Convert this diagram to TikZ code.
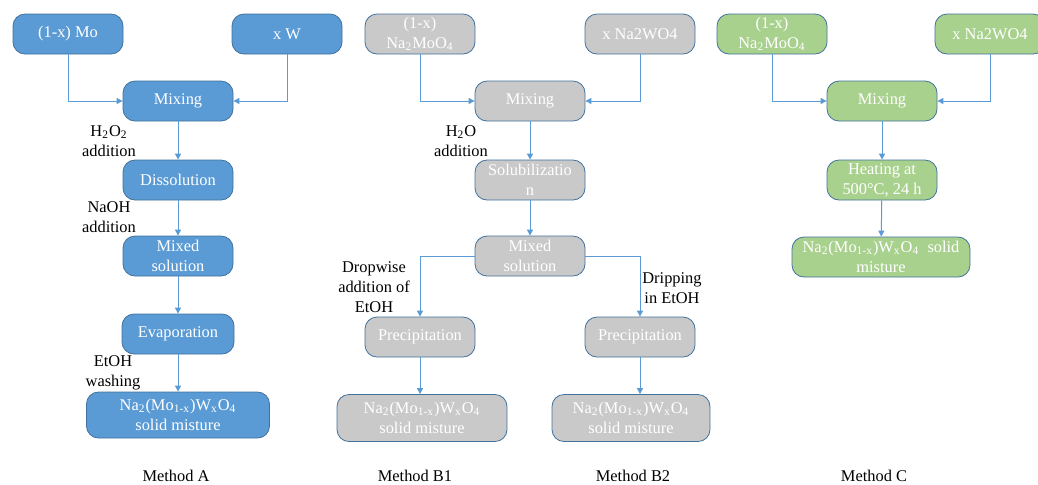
\documentclass[tikz,border=0pt]{standalone}
\usepackage{fontspec}
\setmainfont{Liberation Serif}
\usepackage{tikz}
\usetikzlibrary{arrows.meta,positioning}

\definecolor{fillA}{HTML}{5B9BD5}
\definecolor{fillB}{HTML}{C9C9C9}
\definecolor{fillC}{HTML}{A9D18E}
\definecolor{edge}{HTML}{41719C}
\definecolor{arr}{HTML}{5B9BD5}

\begin{document}
\begin{tikzpicture}[
  x=0.5pt, y=-0.5pt,
  font=\fontsize{8.2}{10}\selectfont,
  box/.style={draw=edge, line width=0.4pt, rounded corners=6pt, text=white,
    minimum width=55pt, minimum height=20pt, inner sep=1pt, align=center},
  boxA/.style={box, fill=fillA},
  boxB/.style={box, fill=fillB},
  boxC/.style={box, fill=fillC},
  flow/.style={draw=arr, line width=0.5pt, -{Triangle[length=3pt,width=3pt]}},
  note/.style={align=center, inner sep=0pt},
]
\useasboundingbox (0,0) rectangle (1038,484);
\def\Prod{Na\textsubscript{2}(Mo\textsubscript{1-x})W\textsubscript{x}O\textsubscript{4}}
% Method A
\node[boxA] (moA) at (68,34) {(1-x) Mo};
\node[boxA] (wA) at (287,34) {x W};
\node[boxA] (mixA) at (178,101) {Mixing};
\node[boxA] (disA) at (178,180) {Dissolution};
\node[boxA] (solA) at (178,256) {Mixed\\solution};
\node[boxA, minimum width=56pt] (evaA) at (178,334) {Evaporation};
\node[boxA, minimum width=91.5pt, minimum height=23pt] (prodA) at (178,415) {\Prod\\solid misture};
\draw[flow] (moA.south) |- (mixA.west);
\draw[flow] (wA.south) |- (mixA.east);
\draw[flow] (mixA) -- (disA);
\draw[flow] (disA) -- (solA);
\draw[flow] (solA) -- (evaA);
\draw[flow] (evaA) -- (prodA);
\node[note] (h2o2) at (109,141) {H\textsubscript{2}O\textsubscript{2}\\addition};
\node[note] (naoh) at (109,217) {NaOH\\addition};
\node[note] (wash) at (113,373) {EtOH\\washing};
\node[inner sep=0pt] (labA) at (176,476) {Method A};
% Method B1 / B2
\node[boxB] (moB) at (420,34) {(1-x)\\Na\textsubscript{2}MoO\textsubscript{4}};
\node[boxB] (wB) at (640,34) {x Na2WO4};
\node[boxB] (mixB) at (530,101) {Mixing};
\node[boxB] (solubB) at (530,180) {Solubilizatio\\n};
\node[boxB] (solB) at (530,256) {Mixed\\solution};
\node[boxB] (preBa) at (420,337) {Precipitation};
\node[boxB] (preBb) at (640,337) {Precipitation};
\node[boxB, minimum width=85pt, minimum height=23.5pt] (prodBa) at (422,418) {\Prod\\solid misture};
\node[boxB, minimum width=79pt, minimum height=23.5pt] (prodBb) at (631,418) {\Prod\\solid misture};
\draw[flow] (moB.south) |- (mixB.west);
\draw[flow] (wB.south) |- (mixB.east);
\draw[flow] (mixB) -- (solubB);
\draw[flow] (solubB) -- (solB);
\draw[flow] (solB.west) -| (preBa.north);
\draw[flow] (solB.east) -| (preBb.north);
\draw[flow] (preBa.south) -- (preBa.south |- prodBa.north);
\draw[flow] (preBb.south) -- (preBb.south |- prodBb.north);
\node[note] (h2o) at (461,141) {H\textsubscript{2}O\\addition};
\node[note] (drop) at (374,287) {Dropwise\\addition of\\EtOH};
\node[note] (drip) at (672,288) {Dripping\\in EtOH};
\node[inner sep=0pt] (labBa) at (415,476) {Method B1};
\node[inner sep=0pt] (labBb) at (633,476) {Method B2};
% Method C
\node[boxC] (moC) at (772,34) {(1-x)\\Na\textsubscript{2}MoO\textsubscript{4}};
\node[boxC] (wC) at (990,34) {x Na2WO4};
\node[boxC] (mixC) at (882,101) {Mixing};
\node[boxC] (heatC) at (882,180) {Heating at\\500°C, 24 h};
\node[boxC, minimum width=89pt] (prodC) at (881,257) {\Prod{}\ \ solid\\misture};
\draw[flow] (moC.south) |- (mixC.west);
\draw[flow] (wC.south) |- (mixC.east);
\draw[flow] (mixC) -- (heatC);
\draw[flow] (heatC) -- (prodC);
\node[inner sep=0pt] (labC) at (874,476) {Method C};
\end{tikzpicture}
\end{document}
